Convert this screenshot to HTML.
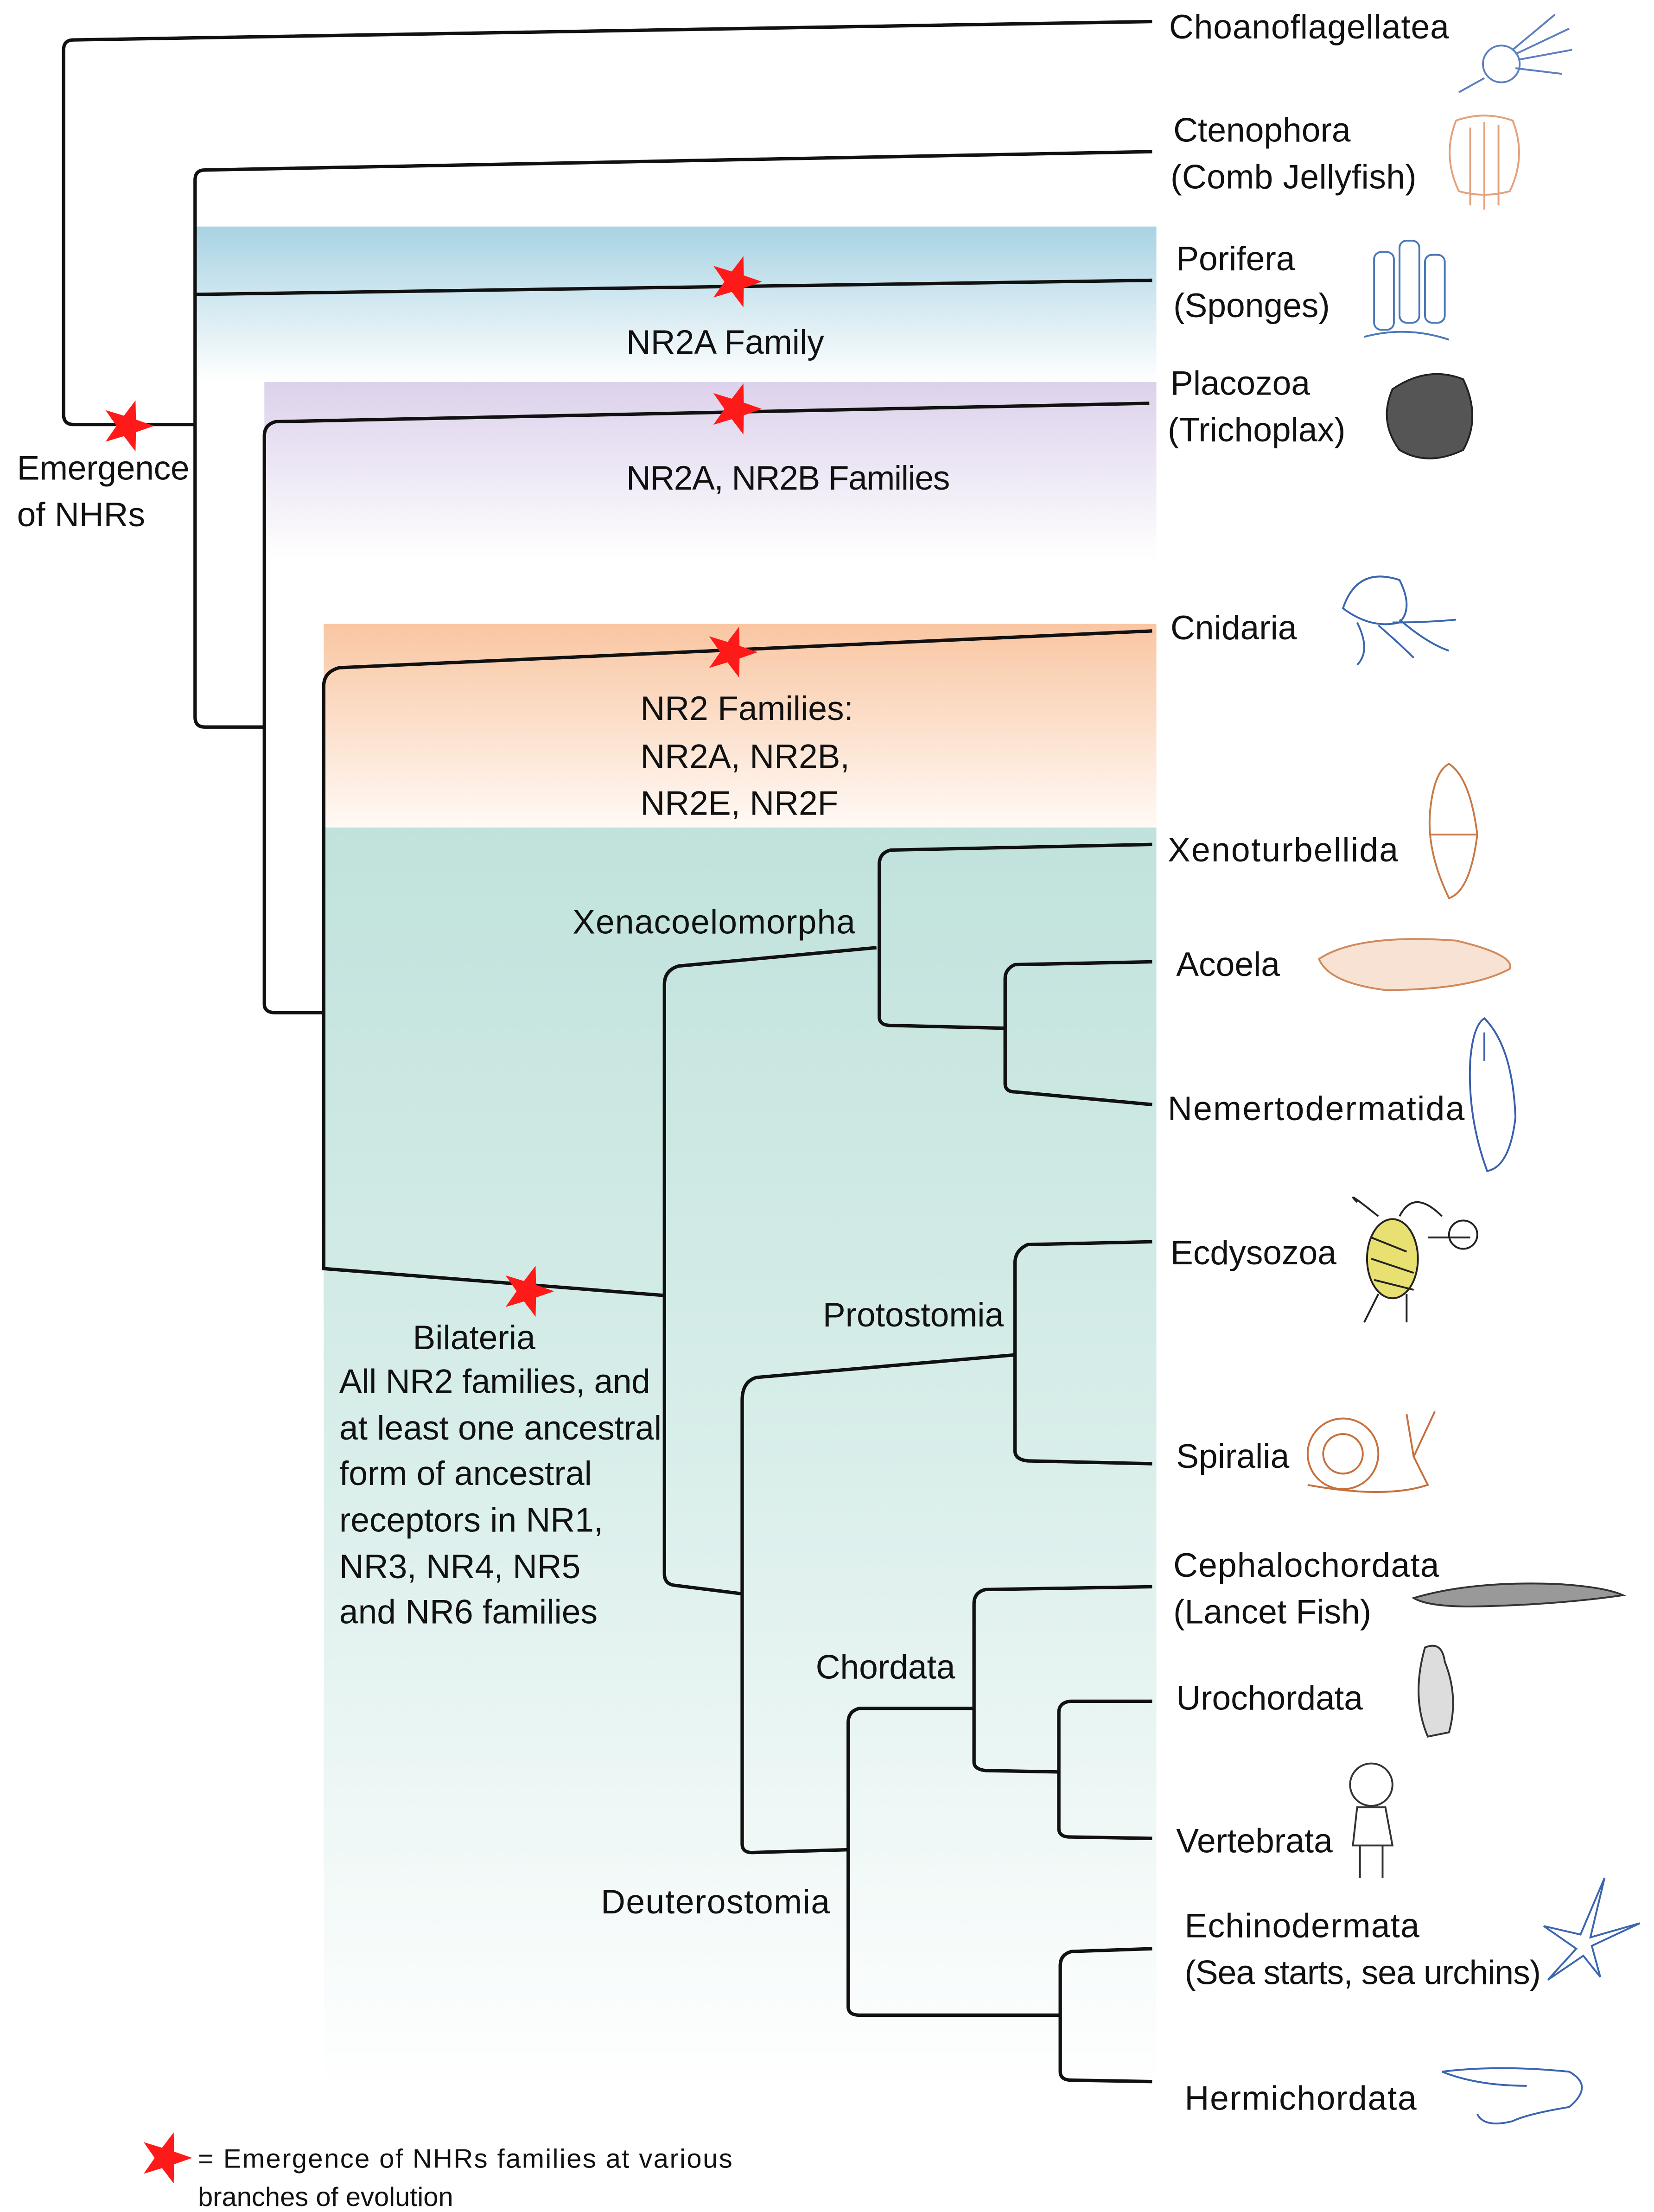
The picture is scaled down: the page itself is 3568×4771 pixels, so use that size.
<!DOCTYPE html>
<html><head><meta charset="utf-8"><style>
html,body{margin:0;padding:0;background:#fff}
svg{display:block}
text{font-family:"Liberation Sans Narrow","Liberation Sans",sans-serif;font-size:24px;fill:#111}
</style></head><body>
<svg width="3568" height="4771" viewBox="0 0 1170 1564" xmlns="http://www.w3.org/2000/svg">
<defs>
<linearGradient id="gb" x1="0" y1="0" x2="0" y2="1"><stop offset="0" stop-color="#a8d3e3"/><stop offset="1" stop-color="#ffffff"/></linearGradient>
<linearGradient id="gp" x1="0" y1="0" x2="0" y2="1"><stop offset="0" stop-color="#dcd1eb"/><stop offset="1" stop-color="#ffffff"/></linearGradient>
<linearGradient id="go" x1="0" y1="0" x2="0" y2="1"><stop offset="0" stop-color="#f9c6a2"/><stop offset="1" stop-color="#fffaf6"/></linearGradient>
<linearGradient id="gt" x1="0" y1="0" x2="0" y2="1"><stop offset="0" stop-color="#c1e2dc"/><stop offset="0.5" stop-color="#d9eeea"/><stop offset="1" stop-color="#ffffff"/></linearGradient>
<path id="st" d="M19,0 L6.15,4.47 L5.87,18.07 L-2.35,7.23 L-15.37,11.17 L-7.6,0 L-15.37,-11.17 L-2.35,-7.23 L5.87,-18.07 L6.15,-4.47Z" fill="#ff1a1a"/>
</defs>
<rect x="138" y="160" width="680" height="110" fill="url(#gb)"/>
<rect x="187" y="270" width="631" height="126" fill="url(#gp)"/>
<rect x="229" y="441" width="589" height="145" fill="url(#go)"/>
<rect x="229" y="585" width="589" height="895" fill="url(#gt)"/>
<g fill="none" stroke="#111" stroke-width="2.4">
<path d="M815,15 L52,28 Q45,28 45,35 L45,293 Q45,300 52,300 L138,300"/>
<path d="M815,107 L145,120 Q138,120 138,127 L138,507 Q138,514 145,514 L187,514"/>
<path d="M138,208 L815,198"/>
<path d="M813,285 L195,298 Q187,300 187,308 L187,710 Q187,716 195,716 L229,716"/>
<path d="M815,446 L240,472 Q229,475 229,485 L229,897 L470,916"/>
<path d="M620,670 L480,683 Q470,686 470,696 L470,1113 Q470,1120 477,1121 L525,1127"/>
<path d="M815,597 L630,601 Q622,603 622,611 L622,719 Q622,725 630,725 L711,727"/>
<path d="M815,680 L718,682 Q711,685 711,692 L711,766 Q711,772 718,772 L815,781"/>
<path d="M718,958 L535,974 Q525,977 525,990 L525,1304 Q525,1310 532,1310 L600,1308"/>
<path d="M815,878 L727,880 Q718,884 718,893 L718,1026 Q718,1032 727,1033 L815,1035"/>
<path d="M689,1208 L608,1208 Q600,1210 600,1218 L600,1419 Q600,1425 608,1425 L750,1425"/>
<path d="M815,1122 L697,1124 Q689,1126 689,1134 L689,1246 Q689,1251 697,1252 L749,1253"/>
<path d="M815,1203 L757,1203 Q749,1204 749,1211 L749,1293 Q749,1299 757,1299 L815,1300"/>
<path d="M815,1378 L758,1380 Q750,1382 750,1390 L750,1465 Q750,1471 758,1471 L815,1472"/>
</g>
<use href="#st" x="90" y="301"/>
<use href="#st" x="520" y="199"/>
<use href="#st" x="520" y="289"/>
<use href="#st" x="517" y="461"/>
<use href="#st" x="373" y="913"/>
<use href="#st" x="117" y="1526"/>
<!-- labels -->
<text x="827" y="27" textLength="198">Choanoflagellatea</text>
<text x="830" y="100">Ctenophora</text>
<text x="828" y="133" textLength="174">(Comb Jellyfish)</text>
<text x="832" y="191">Porifera</text>
<text x="830" y="224">(Sponges)</text>
<text x="828" y="279">Placozoa</text>
<text x="826" y="312">(Trichoplax)</text>
<text x="828" y="452">Cnidaria</text>
<text x="826" y="609" textLength="163">Xenoturbellida</text>
<text x="832" y="690">Acoela</text>
<text x="826" y="792" textLength="210">Nemertodermatida</text>
<text x="828" y="894">Ecdysozoa</text>
<text x="832" y="1038">Spiralia</text>
<text x="830" y="1115" textLength="188">Cephalochordata</text>
<text x="830" y="1148">(Lancet Fish)</text>
<text x="832" y="1209">Urochordata</text>
<text x="832" y="1310">Vertebrata</text>
<text x="838" y="1370" textLength="166">Echinodermata</text>
<text x="838" y="1403" textLength="252">(Sea starts, sea urchins)</text>
<text x="838" y="1492" textLength="164">Hermichordata</text>
<text x="12" y="339" textLength="122">Emergence</text>
<text x="12" y="372">of NHRs</text>
<text x="443" y="250">NR2A Family</text>
<text x="443" y="346" textLength="229">NR2A, NR2B  Families</text>
<text x="453" y="509">NR2 Families:</text>
<text x="453" y="543">NR2A, NR2B,</text>
<text x="453" y="576">NR2E, NR2F</text>
<text x="405" y="660" textLength="200">Xenacoelomorpha</text>
<text x="582" y="938">Protostomia</text>
<text x="577" y="1187">Chordata</text>
<text x="425" y="1353" textLength="162">Deuterostomia</text>
<text x="292" y="954">Bilateria</text>
<text x="240" y="985" textLength="220">All NR2 families, and</text>
<text x="240" y="1018" textLength="228">at least one ancestral</text>
<text x="240" y="1050">form of ancestral</text>
<text x="240" y="1083">receptors in NR1,</text>
<text x="240" y="1116">NR3, NR4, NR5</text>
<text x="240" y="1148">and NR6 families</text>
<text x="140" y="1533" style="font-size:19px" textLength="378">= Emergence of NHRs families at various</text>
<text x="140" y="1560" style="font-size:19px">branches of evolution</text>
<!-- icons -->
<g fill="none" stroke-width="1.3">
<g stroke="#5b7fc0"><circle cx="1062" cy="45" r="13"/><path d="M1050,55 L1032,65 M1070,35 L1100,10 M1072,38 L1110,20 M1074,42 L1112,35 M1072,48 L1105,52"/></g>
<g stroke="#e3a27c"><path d="M1030,85 Q1050,78 1070,85 Q1080,110 1068,135 Q1050,140 1032,135 Q1020,110 1030,85Z M1040,90 L1040,145 M1050,86 L1050,148 M1060,88 L1060,145"/></g>
<g stroke="#4a78b8"><rect x="972" y="178" width="14" height="55" rx="5"/><rect x="990" y="170" width="14" height="58" rx="5"/><rect x="1008" y="180" width="14" height="48" rx="5"/><path d="M965,238 Q995,230 1025,240"/></g>
<g fill="#555" stroke="#222"><path d="M985,275 Q1010,258 1035,268 Q1048,295 1035,318 Q1010,330 990,318 Q975,298 985,275Z"/></g>
<g stroke="#3a66b0"><path d="M950,430 Q960,400 990,410 Q1000,430 990,440 Q970,445 950,430Z M960,440 Q970,460 960,470 M975,442 Q990,455 1000,465 M985,440 Q1010,440 1030,438 M990,438 Q1010,455 1025,460"/></g>
<g stroke="#c77a48"><path d="M1025,540 Q1040,550 1045,590 Q1040,630 1025,635 Q1008,600 1012,570 Q1015,545 1025,540Z M1012,590 L1045,590"/></g>
<g stroke="#d08a5c" fill="#f7e2d3"><path d="M933,678 Q960,660 1030,665 Q1072,675 1068,685 Q1040,700 980,700 Q940,695 933,678Z"/></g>
<g stroke="#3a5fb0"><path d="M1050,720 Q1070,740 1072,790 Q1068,825 1052,828 Q1038,790 1040,750 Q1042,725 1050,720Z M1050,730 L1050,750"/></g>
<g stroke="#222"><ellipse cx="985" cy="890" rx="18" ry="28" fill="#e8e070"/><path d="M970,875 L995,885 M970,890 L1000,900 M972,905 L1000,912 M960,850 Q950,840 975,860 M990,860 Q1000,840 1020,860 M1010,875 L1040,875 M975,915 L965,935 M995,915 L995,935"/><circle cx="1035" cy="873" r="10"/></g>
<g stroke="#c7703e"><circle cx="950" cy="1028" r="25"/><circle cx="950" cy="1028" r="14"/><path d="M925,1050 Q980,1060 1010,1050 L1000,1030 L1015,998 M1000,1030 L995,1000"/></g>
<g stroke="#333" fill="#999"><path d="M1000,1130 Q1040,1118 1100,1120 Q1135,1122 1148,1128 Q1100,1135 1040,1136 Q1010,1136 1000,1130Z"/></g>
<g stroke="#333" fill="#ddd"><path d="M1008,1165 Q1020,1160 1022,1175 Q1032,1200 1025,1225 L1010,1228 Q998,1200 1008,1165Z"/></g>
<g stroke="#333"><circle cx="970" cy="1262" r="15"/><path d="M960,1278 L980,1278 L985,1305 L957,1305Z M962,1305 L962,1328 M978,1305 L978,1328"/></g>
<g stroke="#3a66b0"><path d="M1160,1360 L1125,1370 L1135,1328 L1118,1368 L1092,1362 L1115,1378 L1095,1400 L1120,1383 L1132,1398 L1126,1376Z"/></g>
<g stroke="#3a66b0"><path d="M1020,1465 Q1060,1460 1110,1465 Q1128,1475 1110,1490 Q1080,1495 1070,1500 Q1050,1505 1045,1495 M1020,1465 Q1045,1475 1080,1475"/></g>
</g>
</svg>
</body></html>
